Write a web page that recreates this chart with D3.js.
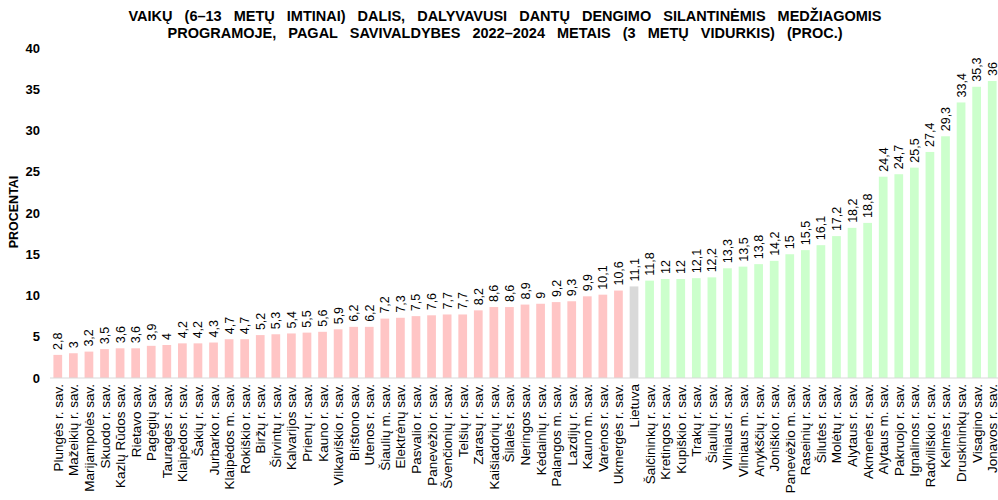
<!DOCTYPE html>
<html><head><meta charset="utf-8">
<script src="https://cdn.jsdelivr.net/npm/d3@7"></script>
<style>body{margin:0;background:#fff;}svg{display:block;}</style>
</head><body>
<script>
const categories = ["Plungės r. sav.","Mažeikių r. sav.","Marijampolės sav.","Skuodo r. sav.","Kazlų Rūdos sav.","Rietavo sav.","Pagėgių sav.","Tauragės r. sav.","Klaipėdos r. sav.","Šakių r. sav.","Jurbarko r. sav.","Klaipėdos m. sav.","Rokiškio r. sav.","Biržų r. sav.","Širvintų r. sav.","Kalvarijos sav.","Prienų r. sav.","Kauno r. sav.","Vilkaviškio r. sav.","Birštono sav.","Utenos r. sav.","Šiaulių m. sav.","Elektrėnų sav.","Pasvalio r. sav.","Panevėžio r. sav.","Švenčionių r. sav.","Telšių r. sav.","Zarasų r. sav.","Kaišiadorių r. sav.","Šilalės r. sav.","Neringos sav.","Kėdainių r. sav.","Palangos m. sav.","Lazdijų r. sav.","Kauno m. sav.","Varėnos r. sav.","Ukmergės r. sav.","Lietuva","Šalčininkų r. sav.","Kretingos r. sav.","Kupiškio r. sav.","Trakų r. sav.","Šiaulių r. sav.","Vilniaus r. sav.","Vilniaus m. sav.","Anykščių r. sav.","Joniškio r. sav.","Panevėžio m. sav.","Raseinių r. sav.","Šilutės r. sav.","Molėtų r. sav.","Alytaus r. sav.","Akmenės r. sav.","Alytaus m. sav.","Pakruojo r. sav.","Ignalinos r. sav.","Radviliškio r. sav.","Kelmės r. sav.","Druskininkų sav.","Visagino sav.","Jonavos r. sav."];
const values = [2.8,3,3.2,3.5,3.6,3.6,3.9,4,4.2,4.2,4.3,4.7,4.7,5.2,5.3,5.4,5.5,5.6,5.9,6.2,6.2,7.2,7.3,7.5,7.6,7.7,7.7,8.2,8.6,8.6,8.9,9,9.2,9.3,9.9,10.1,10.6,11.1,11.8,12,12,12.1,12.2,13.3,13.5,13.8,14.2,15,15.5,16.1,17.2,18.2,18.8,24.4,24.7,25.5,27.4,29.3,33.4,35.3,36];
const yTicks = [0,5,10,15,20,25,30,35,40];
const titleLines = ["VAIKŲ (6–13 METŲ IMTINAI) DALIS, DALYVAVUSI DANTŲ DENGIMO SILANTINĖMIS MEDŽIAGOMIS","PROGRAMOJE, PAGAL SAVIVALDYBES 2022–2024 METAIS (3 METŲ VIDURKIS) (PROC.)"];
const yTitle = "PROCENTAI";
const refName = "Lietuva";

const W = 998, H = 500;
const svg = d3.select("body").append("svg").attr("width", W).attr("height", H);

const x = d3.scaleBand().domain(categories).range([50, 1000]).paddingInner(0.44).paddingOuter(0.22);
const y = d3.scaleLinear().domain([0, 40]).range([378, 48]);
const refIdx = categories.indexOf(refName);
const color = (d, i) => i < refIdx ? "#FFC5C5" : (i === refIdx ? "#D9D9D9" : "#CCFFCC");

svg.selectAll("text.title").data(titleLines).enter().append("text")
  .attr("x", 505).attr("y", (d, i) => 21 + i * 16.5)
  .attr("text-anchor", "middle")
  .style("font-family", "'Liberation Sans',Arial,sans-serif")
  .style("word-spacing", "8px")
  .style("font-weight", "bold").style("font-size", "14.5px").text(d => d);

svg.append("g").selectAll("rect").data(values).enter().append("rect")
  .attr("x", (d, i) => x(categories[i])).attr("width", x.bandwidth())
  .attr("y", d => y(d)).attr("height", d => y(0) - y(d))
  .attr("fill", color);

svg.append("line").attr("x1", 50).attr("x2", 998).attr("y1", y(0)).attr("y2", y(0))
  .attr("stroke", "#D9D9D9").attr("stroke-width", 1);

const yAxis = d3.axisLeft(y).tickValues(yTicks).tickSize(0).tickPadding(0);
const ga = svg.append("g").attr("transform", "translate(40,0)").call(yAxis);
ga.select(".domain").remove();
ga.selectAll("text").style("font-family", "'Liberation Sans',Arial,sans-serif")
  .style("font-size", "13px").style("font-weight", "bold").attr("fill", "#000");

svg.append("text").attr("transform", "translate(18,212) rotate(-90)")
  .attr("text-anchor", "middle")
  .style("font-family", "'Liberation Sans',Arial,sans-serif")
  .style("font-size", "12.5px").style("font-weight", "bold").text(yTitle);

svg.append("g").selectAll("text").data(categories).enter().append("text")
  .attr("transform", d => `translate(${x(d) + x.bandwidth() / 2 + 5},384) rotate(-90)`)
  .attr("text-anchor", "end")
  .style("font-family", "'Liberation Sans',Arial,sans-serif")
  .style("font-size", "13.5px").text(d => d);

svg.append("g").selectAll("text").data(values).enter().append("text")
  .attr("transform", (d, i) => `translate(${x(categories[i]) + x.bandwidth() / 2 + 4.5},${y(d) - 5}) rotate(-90)`)
  .attr("text-anchor", "start")
  .style("font-family", "'Liberation Sans',Arial,sans-serif")
  .style("font-size", "12.5px").text(d => String(d).replace(".", ","));
</script>
</body></html>
